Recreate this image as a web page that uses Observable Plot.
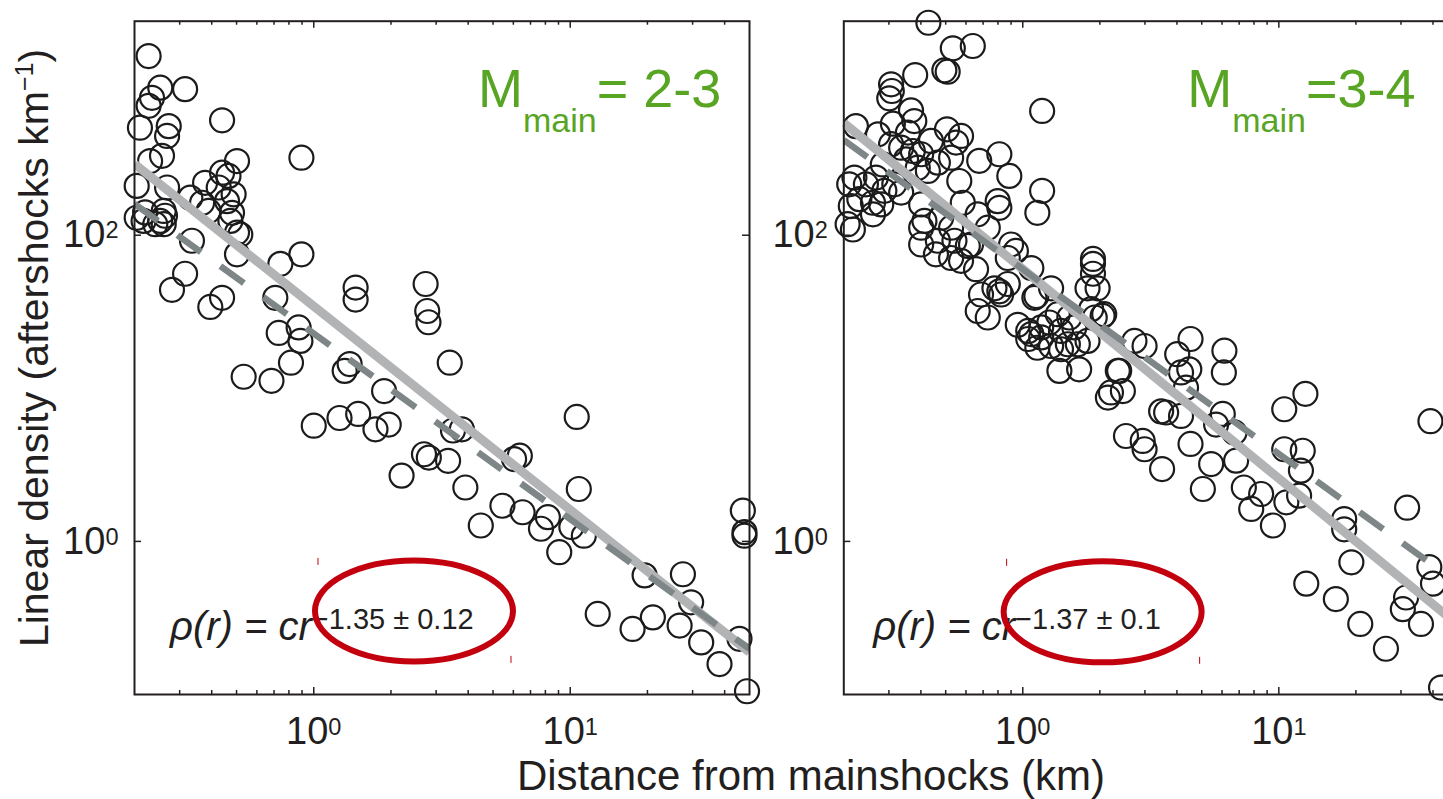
<!DOCTYPE html>
<html>
<head>
<meta charset="utf-8">
<script src="https://cdn.jsdelivr.net/npm/d3@7"></script>
<script src="https://cdn.jsdelivr.net/npm/@observablehq/plot@0.6"></script>
<style>
  html, body { margin: 0; padding: 0; background: #fff; overflow: hidden; width: 1443px; height: 799px; }
  #wrap { position: relative; width: 1443px; height: 799px; overflow: hidden; }
  #wrap > svg { position: absolute; top: 0; }
</style>
</head>
<body>
<div id="wrap"></div>
<script>
// ---------- data ----------
// Left panel: M_main = 2-3
const leftDist = [
  0.227, 0.252, 0.315, 0.234, 0.227, 0.21, 0.272, 0.268, 0.439, 0.256,
  0.230, 0.895, 0.502, 0.439, 0.377, 0.465, 0.487, 0.204, 0.268, 0.330,
  0.367, 0.459, 0.220, 0.252, 0.204, 0.260, 0.389, 0.473, 0.502, 0.335,
  0.502, 0.741, 0.895, 0.315, 0.280, 0.439, 0.395, 0.708, 1.456, 1.456,
  2.73, 2.77, 2.8, 0.73, 0.873, 0.887, 0.426, 0.48, 0.517, 0.263,
  0.241, 0.217, 0.260, 0.815, 0.533, 0.684, 1.32, 1.38, 3.39, 1.88,
  1.0, 1.26, 1.49, 1.74, 1.96, 3.49, 3.78, 10.6, 2.69, 2.81,
  3.34, 2.20, 3.90, 6.36, 6.04, 10.8, 5.44, 6.52, 8.18, 7.69,
  4.48, 10.1, 11.3, 9.06, 19.5, 27.5, 29.6, 12.8, 17.5, 21.0,
  26.7, 32.4, 38.2, 45.7, 47.1, 47.8, 47.8, 48.9
];
const leftDensity = [
  1480, 920, 900, 790, 700, 504, 516, 445, 563, 330,
  305, 321, 305, 256, 220, 244, 185, 210, 205, 176,
  163, 167, 141, 124, 130, 144, 144, 124, 104, 92,
  75, 65, 75, 56, 44, 39, 34, 39, 45.5, 38,
  48, 32, 27, 23, 25, 20.4, 205, 140, 101, 134,
  118, 124, 118, 14.7, 11.9, 11.2, 13.0, 14.4, 14.7, 9.6,
  5.7, 6.4, 6.8, 5.4, 5.8, 5.3, 5.4, 6.5, 3.71, 3.53,
  3.36, 2.69, 2.25, 3.63, 3.45, 2.20, 1.71, 1.55, 1.44, 1.21,
  1.27, 1.24, 1.09, 0.85, 0.60, 0.61, 0.40, 0.336, 0.268, 0.319,
  0.282, 0.219, 0.158, 0.231, 1.59, 1.15, 1.09, 0.105
];

// Right panel: M_main = 3-4
const rightDist = [
  0.428, 0.638, 0.533, 0.494, 0.509, 0.380, 0.306, 0.301, 0.308, 0.366,
  1.19, 0.377, 0.311, 0.223, 0.506, 0.574, 0.272, 0.356, 0.438, 0.306,
  0.335, 0.372, 0.401, 0.549, 0.810, 0.676, 0.466, 0.525, 0.284, 0.350,
  0.886, 0.565, 0.389, 0.426, 1.19, 1.14, 0.22, 0.244, 0.267, 0.288,
  0.315, 0.335, 0.210, 0.230, 0.260, 0.280, 0.213, 0.260, 0.207, 0.217,
  0.798, 0.81, 0.583, 0.401, 0.667, 0.413, 0.480, 0.401, 0.525, 0.730,
  0.401, 0.466, 0.541, 0.610, 0.458, 0.525, 0.574, 0.657, 0.628, 0.90,
  0.94, 0.874, 1.08, 1.88, 1.88, 1.88, 1.79, 1.96, 0.775, 0.823,
  0.874, 0.667, 0.730, 1.29, 1.11, 0.956, 1.05, 1.18, 1.37, 1.59,
  1.91, 2.08, 1.50, 1.79, 2.73,
  2.99, 4.52, 4.01, 4.47, 4.15, 6.13, 6.10, 2.38, 2.46, 2.21,
  2.15, 4.34, 3.63, 4.15, 6.04, 5.69, 6.71, 10.5, 12.7, 39.1,
  2.53, 2.94, 2.99, 3.50, 4.52, 5.44, 5.05, 6.81, 7.30, 8.53,
  7.80, 9.48, 10.7, 12.0, 10.5, 12.4, 12.2, 18.0, 18.0, 31.7,
  19.2, 12.8, 16.7, 20.8, 26.2, 38.7, 40.0, 31.4, 30.5, 35.9,
  43.0,
  1.05, 1.18, 1.27, 1.41, 1.29, 1.52, 1.64, 1.66, 1.39, 2.05,
  1.85, 2.35, 3.47, 1.08, 1.41, 1.14, 0.687, 0.81, 1.13
];
const rightDensity = [
  2443, 1722, 1663, 1194, 1170, 1112, 968, 784, 875, 654,
  648, 557, 535, 516, 492, 445, 456, 468, 413, 393,
  373, 355, 338, 403, 338, 306, 298, 321, 290, 313,
  244, 226, 276, 263, 195, 140, 238, 215, 238, 195,
  215, 190, 215, 172, 163, 159, 155, 137, 118, 109,
  167, 151, 163, 159, 137, 124, 130, 112, 112, 112,
  87, 92, 92, 85, 75, 71, 68, 60, 87, 87,
  79, 71, 61, 70, 65, 56, 45, 45, 45, 41,
  48, 32, 29, 45, 39, 26, 23.7, 21.5, 30.5, 25,
  29, 30.5, 19.4, 20.4, 20.4,
  18.9, 21, 16.7, 13.3, 12.7, 17.6, 12.7, 13.0, 9.6, 9.4,
  8.7, 10.1, 6.95, 6.6, 6.8, 5.8, 5.15, 7.3, 9.2, 6.1,
  4.88, 4.53, 4.0, 2.97, 4.33, 3.20, 2.20, 3.37, 2.25, 2.04,
  1.63, 1.27, 1.80, 1.99, 4.0, 3.91, 2.90, 1.40, 1.20, 1.66,
  0.73, 0.53, 0.42, 0.289, 0.199, 0.68, 0.53, 0.43, 0.361, 0.289,
  0.111,
  21, 25, 26.9, 18.0, 18.9, 29, 19.4, 13.3, 13.0, 29.7,
  32.9, 13.0, 7.07, 22.6, 23.7, 18.4, 41, 43, 40
];

// Fit lines (end points)
const fitDist = [0.2, 50];
const leftFitDensity = [292, 0.189];     // solid light-grey power-law fit
const leftRefDensity = [160, 0.199];     // dashed grey line
const rightFitDensity = [541, 0.286];
const rightRefDensity = [418, 0.535];

// Axes
const xDomain = [0.2, 50];
const yDomain = [0.1, 2500];
const xMajorTicks = [1, 10];
const xMinorTicks = [0.3, 0.4, 0.5, 0.6, 0.7, 0.8, 0.9, 2, 3, 4, 5, 6, 7, 8, 9, 20, 30, 40];
const yTicks = [1, 100];

// Annotations
const exponentLabels = ["\u22121.35 \u00b1 0.12", "\u22121.37 \u00b1 0.1"];
const magnitudeLabels = ["= 2-3", "=3-4"];
const ellipseDist = [2.47, 2.06];
const ellipseDensity = [0.349, 0.344];

// ---------- drawing ----------
const INK = "#231f20";
const GREEN = "#58a524";
const RED = "#c3000e";
const FONT = "'Liberation Sans', Arial, Helvetica, sans-serif";
const H = 799, MT = 20.7, MB = 105;

function pow10(d) { return "10^" + Math.round(Math.log10(d)); }

function supify(svgEl) {
  d3.select(svgEl).selectAll("text").each(function () {
    const m = /^10\^(-?\d+)$/.exec(this.textContent);
    if (m) {
      this.textContent = "10";
      d3.select(this).append("tspan").attr("dy", -9).attr("font-size", "0.62em").text(m[1]);
    }
  });
}

function panel(cfg) {
  const W = cfg.width, ml = cfg.marginLeft, mr = cfg.marginRight;
  const fw = W - ml - mr, fh = H - MT - MB;
  const plot = Plot.plot({
    width: W, height: H,
    marginLeft: ml, marginRight: mr, marginTop: MT, marginBottom: MB,
    style: { background: "transparent", overflow: "visible", maxWidth: "none", fontFamily: FONT, color: INK },
    x: { type: "log", domain: xDomain },
    y: { type: "log", domain: yDomain },
    marks: [
      Plot.dot(cfg.dist, { x: cfg.dist, y: cfg.density, r: 12, stroke: "#1b1b1b", strokeWidth: 2.2, fill: "none" }),
      Plot.line(fitDist, { x: fitDist, y: cfg.fit, stroke: "#b1b3b5", strokeWidth: 9, strokeLinecap: "butt", clip: true }),
      Plot.line(fitDist, { x: fitDist, y: cfg.ref, stroke: "#7e8688", strokeWidth: 6.5, strokeDasharray: "29,24", strokeLinecap: "butt", clip: true }),
      Plot.tickX(xMajorTicks, { x: d => d, insetTop: fh - 7, stroke: INK, strokeWidth: 1.5 }),
      Plot.tickX(xMajorTicks, { x: d => d, insetBottom: fh - 7, stroke: INK, strokeWidth: 1.5 }),
      Plot.tickX(xMinorTicks, { x: d => d, insetTop: fh - 4, stroke: INK, strokeWidth: 1.5 }),
      Plot.tickX(xMinorTicks, { x: d => d, insetBottom: fh - 4, stroke: INK, strokeWidth: 1.5 }),
      Plot.tickY(yTicks, { y: d => d, insetRight: fw - 7, stroke: INK, strokeWidth: 1.5 }),
      Plot.tickY(yTicks, { y: d => d, insetLeft: fw - 7, stroke: INK, strokeWidth: 1.5 }),
      Plot.axisX({ ticks: xMajorTicks, tickSize: 0, tickPadding: 22.7, tickFormat: pow10, fontSize: 38, label: null, fill: INK }),
      Plot.axisY({ ticks: yTicks, tickSize: 0, tickPadding: 16, tickFormat: pow10, fontSize: 38, label: null, fill: INK }),
      Plot.frame({ stroke: INK, strokeWidth: 2 })
    ]
  });
  supify(plot);
  const svg = d3.select(plot);
  const sx = plot.scale("x"), sy = plot.scale("y");
  const g = svg.append("g").attr("font-family", FONT).attr("text-anchor", "start");

  // magnitude label
  const mt = g.append("text").attr("text-anchor", "start").attr("x", ml + 344).attr("y", 107)
    .attr("fill", GREEN).attr("font-size", 54);
  mt.append("tspan").text("M");
  mt.append("tspan").attr("font-size", 34).attr("dy", 25).text("main");
  mt.append("tspan").attr("font-size", 54).attr("dy", -25).text(cfg.mag);

  // formula
  const ft = g.append("text").attr("text-anchor", "start").attr("x", ml + cfg.formulaDx).attr("y", 640)
    .attr("fill", INK).attr("font-size", 40).attr("font-style", "italic");
  ft.append("tspan").text("\u03c1(r) = cr");
  ft.append("tspan").attr("font-style", "normal").attr("font-size", 29).attr("dy", -11).text(cfg.exponent);

  // red ellipse around exponent
  const cx = sx.apply(cfg.ellX), cy = sy.apply(cfg.ellY);
  g.append("ellipse").attr("cx", cx).attr("cy", cy).attr("rx", 99).attr("ry", 50.5)
    .attr("fill", "none").attr("stroke", RED).attr("stroke-width", 6);
  g.append("line").attr("x1", cx - 96).attr("x2", cx - 96).attr("y1", cy - 53).attr("y2", cy - 46)
    .attr("stroke", RED).attr("stroke-width", 1);
  g.append("line").attr("x1", cx + 97).attr("x2", cx + 97).attr("y1", cy + 45).attr("y2", cy + 52)
    .attr("stroke", RED).attr("stroke-width", 1);

  plot.style.left = cfg.left + "px";
  return plot;
}

const wrap = document.getElementById("wrap");

wrap.appendChild(panel({
  left: 0, width: 800, marginLeft: 134, marginRight: 51,
  dist: leftDist, density: leftDensity, fit: leftFitDensity, ref: leftRefDensity,
  mag: magnitudeLabels[0], exponent: exponentLabels[0], formulaDx: 36,
  ellX: ellipseDist[0], ellY: ellipseDensity[0]
}));

wrap.appendChild(panel({
  left: 740, width: 760, marginLeft: 103.3, marginRight: 42.7,
  dist: rightDist, density: rightDensity, fit: rightFitDensity, ref: rightRefDensity,
  mag: magnitudeLabels[1], exponent: exponentLabels[1], formulaDx: 30,
  ellX: ellipseDist[1], ellY: ellipseDensity[1]
}));

// shared axis titles
const over = d3.create("svg").attr("width", 1443).attr("height", 799)
  .style("left", "0px").style("pointer-events", "none").attr("font-family", FONT);
over.append("text").attr("x", 811).attr("y", 790).attr("text-anchor", "middle")
  .attr("font-size", 42).attr("fill", INK).text("Distance from mainshocks (km)");
const yl = over.append("text").attr("transform", "translate(48,348) rotate(-90)")
  .attr("text-anchor", "middle").attr("font-size", 41).attr("fill", INK);
yl.append("tspan").text("Linear density (aftershocks km");
yl.append("tspan").attr("font-size", 25).attr("dy", -15).text("\u22121");
yl.append("tspan").attr("font-size", 41).attr("dy", 15).text(")");
wrap.appendChild(over.node());
</script>
</body>
</html>
